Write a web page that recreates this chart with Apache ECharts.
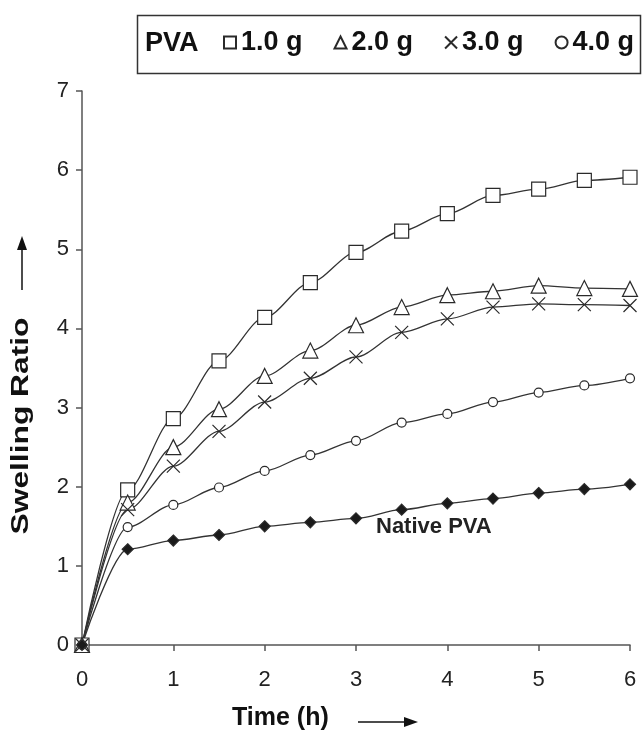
<!DOCTYPE html>
<html>
<head>
<meta charset="utf-8">
<script src="https://cdn.jsdelivr.net/npm/echarts@6/dist/echarts.min.js"></script>
<style>
  html, body { margin: 0; padding: 0; background: #fff; }
  #chart { width: 642px; height: 734px; }
</style>
</head>
<body>
<div id="chart"></div>
<script>
// time (h)
var hours = [0, 0.5, 1, 1.5, 2, 2.5, 3, 3.5, 4, 4.5, 5, 5.5, 6]
// swelling ratio per PVA amount
var pva1 = [0, 1.96, 2.86, 3.59, 4.14, 4.58, 4.96, 5.23, 5.45, 5.68, 5.76, 5.87, 5.91]
var pva2 = [0, 1.80, 2.50, 2.98, 3.40, 3.72, 4.04, 4.27, 4.42, 4.47, 4.54, 4.51, 4.50]
var pva3 = [0, 1.71, 2.26, 2.70, 3.07, 3.37, 3.64, 3.95, 4.12, 4.27, 4.31, 4.30, 4.29]
var pva4 = [0, 1.49, 1.77, 1.99, 2.20, 2.40, 2.58, 2.81, 2.92, 3.07, 3.19, 3.28, 3.37]
var nativePva = [0, 1.21, 1.32, 1.39, 1.50, 1.55, 1.60, 1.71, 1.79, 1.85, 1.92, 1.97, 2.03]
var legendNames = ['1.0 g', '2.0 g', '3.0 g', '4.0 g']
var xTicks = [0, 1, 2, 3, 4, 5, 6]
var yTicks = [0, 1, 2, 3, 4, 5, 6, 7]

var crossPath = 'path://M0,0L10,10M0,10L10,0'

function pairs(ys) {
    return hours.map(function(h, i) { return [h, ys[i]] })
}

function makeSeries(name, ys, symbol, size, fill) {
    return {
        name: name,
        type: 'line',
        smooth: 0.3,
        smoothMonotone: 'x',
        data: pairs(ys),
        symbol: symbol,
        symbolSize: size,
        showAllSymbol: true,
        lineStyle: { color: '#333', width: 1.3 },
        itemStyle: { color: fill, borderColor: '#2a2a2a', borderWidth: 1.2 },
        emphasis: { disabled: true },
        z: 3
    }
}

var myChart = echarts.init(document.getElementById('chart'))
var option = {
    animation: false,
    backgroundColor: '#fff',
    grid: { left: 82, right: 12, top: 91, bottom: 89 },
    legend: {
        left: 223,
        top: 29,
        width: 430,
        padding: 0,
        itemWidth: 12,
        itemHeight: 12,
        itemGap: 31,
        selectedMode: false,
        textStyle: { fontFamily: 'Liberation Sans', fontWeight: 'bold', fontSize: 27, color: '#111' },
        data: [
            { name: legendNames[0], icon: 'rect' },
            { name: legendNames[1], icon: 'triangle' },
            { name: legendNames[2], icon: crossPath },
            { name: legendNames[3], icon: 'circle' }
        ]
    },
    graphic: [
        {
            type: 'rect',
            shape: { x: 137.5, y: 15.5, width: 503, height: 58 },
            style: { fill: 'none', stroke: '#333', lineWidth: 1.5 }
        },
        {
            type: 'text', left: 145, top: 30,
            style: { text: 'PVA', font: 'bold 27px "Liberation Sans"', fill: '#111' }
        },
        {
            type: 'text', left: 376, top: 516,
            style: { text: 'Native PVA', font: 'bold 22px "Liberation Sans"', fill: '#222' }
        },
        {
            type: 'text', x: 22, y: 426, rotation: Math.PI / 2,
            scaleX: 1.38,
            style: { text: 'Swelling Ratio', font: 'bold 23px "Liberation Sans"', fill: '#111', align: 'center', verticalAlign: 'middle' }
        },
        {
            type: 'line',
            shape: { x1: 22, y1: 290, x2: 22, y2: 248 },
            style: { stroke: '#111', lineWidth: 1.5 }
        },
        {
            type: 'polygon',
            shape: { points: [[22, 236], [17, 250], [27, 250]] },
            style: { fill: '#111' }
        },
        {
            type: 'text', left: 232, top: 706,
            style: { text: 'Time (h)', font: 'bold 25px "Liberation Sans"', fill: '#111' }
        },
        {
            type: 'line',
            shape: { x1: 358, y1: 722, x2: 405, y2: 722 },
            style: { stroke: '#111', lineWidth: 1.5 }
        },
        {
            type: 'polygon',
            shape: { points: [[418, 722], [404, 717], [404, 727]] },
            style: { fill: '#111' }
        }
    ],
    xAxis: {
        type: 'value',
        min: xTicks[0],
        max: xTicks[xTicks.length - 1],
        interval: 1,
        splitLine: { show: false },
        axisLine: { lineStyle: { color: '#555', width: 1.5 } },
        axisTick: { show: true, inside: false, length: 6, lineStyle: { color: '#555', width: 1.5 } },
        axisLabel: { fontFamily: 'Liberation Sans', fontSize: 22, color: '#222', margin: 24 }
    },
    yAxis: {
        type: 'value',
        min: yTicks[0],
        max: yTicks[yTicks.length - 1],
        interval: 1,
        splitLine: { show: false },
        axisLine: { show: true, lineStyle: { color: '#555', width: 1.5 } },
        axisTick: { show: true, inside: false, length: 6, lineStyle: { color: '#555', width: 1.5 } },
        axisLabel: { fontFamily: 'Liberation Sans', fontSize: 22, color: '#222', margin: 13 }
    },
    series: [
        makeSeries(legendNames[0], pva1, 'rect', 14, '#fff'),
        makeSeries(legendNames[1], pva2, 'triangle', 15, '#fff'),
        makeSeries(legendNames[2], pva3, crossPath, 13, '#fff'),
        makeSeries(legendNames[3], pva4, 'circle', 9, '#fff'),
        makeSeries('Native PVA', nativePva, 'diamond', 11, '#1a1a1a')
    ]
}
myChart.setOption(option)
</script>
</body>
</html>
